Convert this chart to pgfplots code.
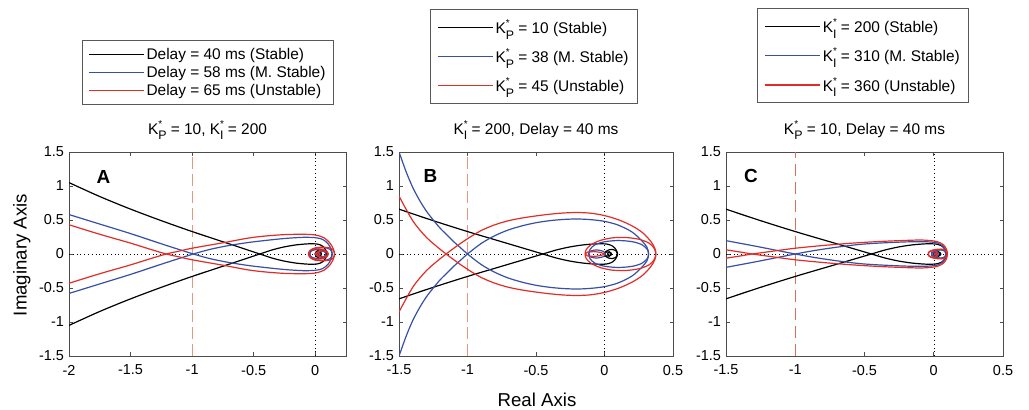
\documentclass[border=0pt]{standalone}
\usepackage{pgfplots}
\pgfplotsset{compat=1.18}
\usepackage{pgfplotstable}
\usepackage{fontspec}
\setmainfont{Liberation Sans}
\definecolor{cblue}{RGB}{55,80,165}
\definecolor{cred}{RGB}{225,45,40}
\definecolor{cdash}{RGB}{232,150,125}
\definecolor{cdashC}{RGB}{212,115,90}
\newcommand{\Ks}[1]{K\makebox[0pt][l]{\raisebox{0.85ex}{\fontsize{10}{10}\selectfont *}}\raisebox{-0.7ex}{\fontsize{12.4}{12}\selectfont #1}}
\newcommand{\lgfont}{\fontsize{15.5}{17}\selectfont}

\pgfplotstableread[row sep=\\]{
x y\\
-2.0 -1.05\\ -1.75 -0.845\\ -1.5 -0.66\\ -1.25 -0.49\\ -1.0 -0.33\\ -0.75 -0.18\\ -0.6 -0.09\\ -0.45 0\\
-0.35 0.06\\ -0.25 0.105\\ -0.15 0.135\\ -0.05 0.15\\ 0.02 0.145\\ 0.06 0.115\\ 0.085 0.06\\ 0.095 0.0\\
0.085 -0.045\\ 0.06 -0.065\\ 0.03 -0.06\\ 0.008 -0.035\\ 0.0 0.0\\ 0.012 0.028\\ 0.035 0.032\\ 0.05 0.01\\
0.045 -0.014\\ 0.03 -0.02\\ 0.02 -0.005\\
}\blackT

\pgfplotstableread[row sep=\\]{
x y\\
-2.0 -0.58\\ -1.75 -0.44\\ -1.5 -0.30\\ -1.25 -0.15\\ -0.99 0\\ -0.85 0.07\\ -0.7 0.125\\ -0.54 0.17\\
-0.4 0.2\\ -0.25 0.228\\ -0.1 0.245\\ 0.0 0.24\\ 0.06 0.215\\ 0.105 0.15\\ 0.13 0.07\\ 0.138 0.0\\
0.13 -0.05\\ 0.1 -0.085\\ 0.05 -0.095\\ 0.0 -0.085\\ -0.035 -0.045\\ -0.045 0.0\\ -0.03 0.045\\ 0.01 0.065\\
0.055 0.055\\ 0.085 0.02\\ 0.085 -0.02\\ 0.06 -0.04\\ 0.03 -0.03\\ 0.02 0.0\\
}\blueA

\pgfplotstableread[row sep=\\]{
x y\\
-2.0 -0.43\\ -1.75 -0.29\\ -1.5 -0.16\\ -1.35 -0.075\\ -1.21 0\\ -1.1 0.045\\ -1.0 0.085\\ -0.75 0.165\\
-0.54 0.235\\ -0.4 0.265\\ -0.25 0.285\\ -0.1 0.29\\ 0.0 0.28\\ 0.07 0.24\\ 0.12 0.16\\ 0.148 0.07\\
0.157 0.0\\ 0.145 -0.06\\ 0.115 -0.09\\ 0.065 -0.1\\ 0.0 -0.09\\ -0.04 -0.055\\ -0.055 0.0\\ -0.04 0.05\\
0.0 0.075\\ 0.06 0.07\\ 0.1 0.03\\ 0.105 -0.01\\ 0.08 -0.04\\ 0.04 -0.045\\ 0.01 -0.02\\ 0.0 0.0\\
0.015 0.02\\ 0.035 0.015\\ 0.04 0.0\\
}\redA

\pgfplotstableread[row sep=\\]{
x y\\
-1.51 -1.56\\ -1.45 -1.22\\ -1.4 -0.98\\ -1.35 -0.79\\ -1.3 -0.63\\ -1.25 -0.5\\ -1.2 -0.38\\ -1.15 -0.28\\
-1.1 -0.18\\ -1.05 -0.09\\ -1.0 0\\ -0.9 0.155\\ -0.8 0.27\\ -0.7 0.355\\ -0.6 0.415\\ -0.5 0.46\\
-0.4 0.49\\ -0.3 0.508\\ -0.2 0.515\\ -0.1 0.505\\ 0.0 0.48\\ 0.1 0.425\\ 0.2 0.325\\ 0.27 0.2\\
0.31 0.1\\ 0.322 0.0\\
0.31 -0.075\\ 0.27 -0.14\\ 0.2 -0.182\\ 0.1 -0.198\\ 0.0 -0.18\\ -0.07 -0.135\\ -0.105 -0.07\\ -0.115 0.0\\
-0.1 0.045\\ -0.055 0.06\\ -0.01 0.04\\ 0.005 0.01\\ 0.0 0.0\\
}\blueB

\pgfplotstableread[row sep=\\]{
x y\\
-1.51 -0.89\\ -1.4 -0.49\\ -1.3 -0.245\\ -1.2 -0.07\\ -1.1 0.085\\ -1.0 0.225\\ -0.9 0.345\\ -0.8 0.43\\
-0.7 0.49\\ -0.6 0.53\\ -0.5 0.56\\ -0.4 0.585\\ -0.3 0.603\\ -0.2 0.61\\ -0.1 0.6\\ 0.0 0.565\\
0.1 0.505\\ 0.2 0.415\\ 0.28 0.31\\ 0.34 0.18\\ 0.368 0.08\\ 0.375 0.0\\
0.362 -0.085\\ 0.325 -0.16\\ 0.255 -0.215\\ 0.16 -0.242\\ 0.06 -0.238\\ -0.03 -0.2\\ -0.1 -0.135\\ -0.135 -0.06\\
-0.14 0.0\\ -0.125 0.028\\ -0.08 0.035\\ -0.035 0.025\\ -0.01 0.01\\ 0.0 0.0\\
}\redB

\pgfplotstableread[row sep=\\]{
x y\\
-1.51 -0.2\\ -1.3 -0.12\\ -1.15 -0.06\\ -1.0 0\\ -0.85 0.055\\ -0.7 0.1\\ -0.54 0.14\\ -0.4 0.16\\
-0.2 0.178\\ -0.05 0.18\\ 0.03 0.16\\ 0.07 0.105\\ 0.085 0.045\\ 0.088 0.0\\ 0.08 -0.04\\ 0.05 -0.06\\
0.01 -0.05\\ -0.015 -0.02\\ -0.015 0.01\\ 0.01 0.03\\ 0.03 0.02\\ 0.03 0.0\\
}\blueC

\pgfplotstableread[row sep=\\]{
x y\\
-1.51 -0.065\\ -1.4 -0.03\\ -1.31 0\\ -1.15 0.045\\ -1.0 0.085\\ -0.8 0.125\\ -0.6 0.158\\ -0.4 0.183\\
-0.2 0.2\\ -0.08 0.205\\ 0.02 0.185\\ 0.07 0.135\\ 0.093 0.065\\ 0.098 0.0\\ 0.09 -0.045\\ 0.06 -0.07\\
0.02 -0.068\\ -0.02 -0.05\\ -0.04 -0.015\\ -0.035 0.025\\ -0.01 0.048\\ 0.015 0.04\\ 0.025 0.012\\ 0.015 -0.01\\
0.0 0.0\\
}\redC

\pgfplotsset{
  panel/.style={
    scale only axis, height=204bp,
    ymin=-1.5, ymax=1.5,
    ytick={-1.5,-1,-0.5,0,0.5,1,1.5},
    yticklabels={-1.5,-1,-0.5,0,0.5,1,1.5},
    tick label style={font=\fontsize{14.5}{15}\selectfont},
    xticklabel style={yshift=-5.5bp},
    yticklabel style={xshift=-1.5bp},
    axis line style={black!70, line width=0.7bp},
    major tick length=3.5bp,
    tick style={black!70, line width=0.6bp},
    title style={at={(0.5,1)}, anchor=base, yshift=12bp, font=\fontsize{15.5}{16}\selectfont},
    legend cell align=left,
    legend image code/.code={\draw[##1, line width=1.2bp] (0bp,0bp) -- (55bp,0bp);},
  },
  crv/.style={line width=1.2bp, smooth, tension=0.5},
  zl/.style={black, line width=0.5bp, dash pattern=on 0.8bp off 3bp, forget plot},
  lg/.style={anchor=north west, draw=black!65, line width=0.7bp,
    font=\lgfont, nodes={font=\lgfont}},
}

\begin{document}
\begin{tikzpicture}
\useasboundingbox (0,0) rectangle (1029bp,410bp);

% Panel A
\begin{axis}[panel, at={(69bp,54bp)}, anchor=south west, width=277bp,
  xmin=-2, xmax=0.25, xtick={-2,-1.5,-1,-0.5,0}, xticklabels={-2,-1.5,-1,-0.5,0},
  title={\Ks{P} = 10, \Ks{I} = 200},
  legend style={lg, at={(0.047,1.549)}, row sep=1.5bp, inner xsep=6bp, inner ysep=5.5bp}]
\addplot[zl] coordinates {(-2,0) (0.25,0)};
\addplot[zl] coordinates {(0,-1.5) (0,1.5)};
\addplot[cdash, line width=0.9bp, dash pattern=on 12bp off 5bp, forget plot] coordinates {(-1,-1.5) (-1,1.5)};
\addplot[crv, black] table {\blackT};
\addlegendentry{Delay = 40 ms (Stable)}
\addplot[crv, black, forget plot] table[y expr=-\thisrow{y}] {\blackT};
\addplot[crv, cblue] table {\blueA};
\addlegendentry{Delay = 58 ms (M. Stable)}
\addplot[crv, cblue, forget plot] table[y expr=-\thisrow{y}] {\blueA};
\addplot[crv, cred] table {\redA};
\addlegendentry{Delay = 65 ms (Unstable)}
\addplot[crv, cred, forget plot] table[y expr=-\thisrow{y}] {\redA};
\node[font=\bfseries\fontsize{19}{19}\selectfont] at (axis cs:-1.72,1.13) {A};
\end{axis}

% Panel B
\begin{axis}[panel, at={(399bp,54bp)}, anchor=south west, width=274bp,
  xmin=-1.5, xmax=0.5, xtick={-1.5,-1,-0.5,0,0.5}, xticklabels={-1.5,-1,-0.5,0,0.5},
  title={\Ks{I} = 200, Delay = 40 ms},
  legend style={lg, at={(0.113,1.70)}, row sep=10bp, inner xsep=7bp, inner ysep=8bp}]
\addplot[zl] coordinates {(-1.5,0) (0.5,0)};
\addplot[zl] coordinates {(0,-1.5) (0,1.5)};
\addplot[cdash, line width=0.9bp, dash pattern=on 12bp off 5bp, forget plot] coordinates {(-1,-1.5) (-1,1.5)};
\addplot[crv, black] table {\blackT};
\addlegendentry{\Ks{P} = 10 (Stable)}
\addplot[crv, black, forget plot] table[y expr=-\thisrow{y}] {\blackT};
\addplot[crv, cblue] table {\blueB};
\addlegendentry{\Ks{P} = 38 (M. Stable)}
\addplot[crv, cblue, forget plot] table[y expr=-\thisrow{y}] {\blueB};
\addplot[crv, cred] table {\redB};
\addlegendentry{\Ks{P} = 45 (Unstable)}
\addplot[crv, cred, forget plot] table[y expr=-\thisrow{y}] {\redB};
\node[font=\bfseries\fontsize{19}{19}\selectfont] at (axis cs:-1.27,1.14) {B};
\end{axis}

% Panel C
\begin{axis}[panel, at={(726bp,54bp)}, anchor=south west, width=277bp,
  xmin=-1.5, xmax=0.5, xtick={-1.5,-1,-0.5,0,0.5}, xticklabels={-1.5,-1,-0.5,0,0.5},
  title={\Ks{P} = 10, Delay = 40 ms},
  legend style={lg, at={(0.113,1.704)}, row sep=10bp, inner xsep=7bp, inner ysep=8bp}]
\addplot[zl] coordinates {(-1.5,0) (0.5,0)};
\addplot[zl] coordinates {(0,-1.5) (0,1.5)};
\addplot[cdashC, line width=1.3bp, dash pattern=on 12bp off 6bp, forget plot] coordinates {(-1,-1.5) (-1,1.5)};
\addplot[crv, black] table {\blackT};
\addlegendentry{\Ks{I} = 200 (Stable)}
\addplot[crv, black, forget plot] table[y expr=-\thisrow{y}] {\blackT};
\addplot[crv, cblue] table {\blueC};
\addlegendentry{\Ks{I} = 310 (M. Stable)}
\addplot[crv, cblue, forget plot] table[y expr=-\thisrow{y}] {\blueC};
\addplot[crv, cred] table {\redC};
\addlegendentry{\Ks{I} = 360 (Unstable)}
\addplot[crv, cred, forget plot] table[y expr=-\thisrow{y}] {\redC};
\node[font=\bfseries\fontsize{19}{19}\selectfont] at (axis cs:-1.32,1.14) {C};
\end{axis}

\node[rotate=90, anchor=base, font=\fontsize{18.7}{19}\selectfont] at (26.5bp,155bp) {Imaginary Axis};
\node[anchor=base, font=\fontsize{18.7}{19}\selectfont] at (537bp,4bp) {Real Axis};
\end{tikzpicture}
\end{document}
